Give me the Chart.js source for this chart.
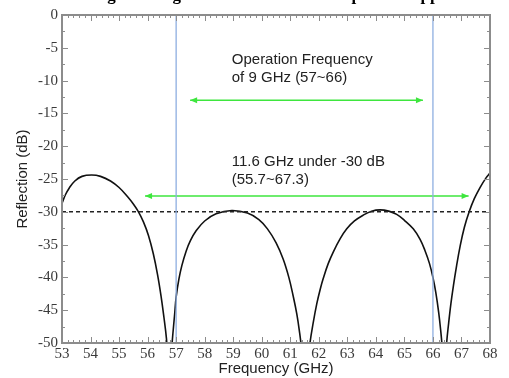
<!DOCTYPE html>
<html>
<head>
<meta charset="utf-8">
<script src="https://cdn.jsdelivr.net/npm/chart.js@4.4.1/dist/chart.umd.min.js"></script>
<style>
  html, body { margin: 0; padding: 0; background: #fff; }
  #wrap { width: 509px; height: 378px; }
</style>
</head>
<body>
<div id="wrap"><canvas id="chart" width="509" height="378"></canvas></div>
<script>
// 反射曲线 (GHz, dB)，从原图读取；零点处低于 -50 的部分被裁掉
const freq = [
  53.00, 53.12, 53.25, 53.45, 53.70, 54.04, 54.35, 54.70, 55.00, 55.30, 55.50, 55.68, 55.85, 56.03, 56.20, 56.35, 56.47, 56.57, 56.66, 56.77,
  56.85, 56.95, 57.00, 57.10, 57.20, 57.35, 57.50, 57.70, 58.00, 58.40, 58.95, 59.50, 59.90, 60.20, 60.50, 60.75, 60.95, 61.10, 61.23, 61.33, 61.40, 61.53,
  61.69, 61.80, 61.93, 62.05, 62.16, 62.33, 62.51, 62.75, 62.98, 63.25, 63.56, 63.85, 64.15, 64.45, 64.73, 65.00, 65.31, 65.55, 65.72, 65.88, 66.00, 66.10, 66.20, 66.27, 66.33, 66.39,
  66.48, 66.55, 66.63, 66.72, 66.83, 66.95, 67.10, 67.27, 67.45, 67.65, 67.85, 68.00];
const refl = [
  -28.7, -27.4, -26.4, -25.3, -24.6, -24.4, -24.6, -25.3, -26.3, -27.7, -28.8, -30.0, -31.5, -33.6, -36.4, -39.6, -42.8, -46.0, -49.3, -56.0,
  -50.5, -45.5, -43.0, -40.2, -38.2, -36.0, -34.4, -32.9, -31.4, -30.3, -29.8, -30.2, -31.2, -32.6, -34.7, -37.2, -40.0, -42.8, -45.6, -48.5, -51.0, -56.0,
  -50.0, -47.0, -44.0, -41.8, -40.1, -37.9, -36.1, -34.1, -32.6, -31.4, -30.5, -29.9, -29.7, -29.9, -30.4, -31.3, -32.6, -34.2, -35.9, -37.9, -40.0, -42.3, -45.3, -48.0, -51.0, -56.0,
  -50.0, -47.0, -44.0, -41.2, -38.2, -35.3, -32.4, -30.0, -28.0, -26.3, -24.9, -24.1];

// 工作频段边界 (GHz)
const bandEdges = [57, 66];
// -30 dB 参考线
const refLevel = -30;
// 箭头：[起点, 终点] GHz 和 dB 位置
const opArrowX = [57.49, 65.65];
const opArrowY = -13.0;
const bwArrowX = [55.91, 67.25];
const bwArrowY = -27.6;

// 坐标轴
const xMin = 53, xMax = 68, xStep = 1;
const yMin = -50, yMax = 0, yStep = 5;

// 注释文字
const opLabel = ['Operation Frequency', 'of 9 GHz (57~66)'];
const bwLabel = ['11.6 GHz under -30 dB', '(55.7~67.3)'];
const labelX = 58.95;
const opLabelY = [-6.9, -9.6];
const bwLabelY = [-22.4, -25.1];
const figTitle = 'Fig. 6. Designed reflection with two pair of supports';

const COLORS = {
  curve: '#111111',
  band: '#8eaee0',
  arrow: '#3ee63e',
  axis: '#8c8c8c',
  tick: '#3a3a3a',
  text: '#222222'
};

const curve = freq.map((f, i) => ({ x: f, y: refl[i] }));
const line = (pts, color, width, dash) => ({
  data: pts,
  showLine: true,
  borderColor: color,
  borderWidth: width,
  borderDash: dash || [],
  pointRadius: 0,
  tension: 0,
  clip: 0
});

const datasets = [
  ...bandEdges.map(b => line([{ x: b, y: yMin }, { x: b, y: yMax }], COLORS.band, 1.3)),
  line([{ x: xMin, y: refLevel }, { x: xMax, y: refLevel }], '#222', 1.4, [4, 3]),
  line(opArrowX.map(v => ({ x: v, y: opArrowY })), COLORS.arrow, 1.4),
  line(bwArrowX.map(v => ({ x: v, y: bwArrowY })), COLORS.arrow, 1.4),
  Object.assign(line(curve, COLORS.curve, 1.6), { tension: 0.4 })
];

// 箭头、边框、内向刻度、文字
const decorations = {
  id: 'decorations',
  afterDatasetsDraw(chart) {
    const { ctx, chartArea: a, scales: { x, y } } = chart;
    ctx.save();

    // 双向箭头
    ctx.fillStyle = COLORS.arrow;
    const head = (px, py, dir) => {
      ctx.beginPath();
      ctx.moveTo(px, py);
      ctx.lineTo(px - dir * 7, py - 3);
      ctx.lineTo(px - dir * 7, py + 3);
      ctx.closePath();
      ctx.fill();
    };
    [[opArrowX, opArrowY], [bwArrowX, bwArrowY]].forEach(([xs, yv]) => {
      const py = y.getPixelForValue(yv);
      head(x.getPixelForValue(xs[0]), py, -1);
      head(x.getPixelForValue(xs[1]), py, 1);
    });

    // 边框
    ctx.strokeStyle = COLORS.axis;
    ctx.lineWidth = 2;
    ctx.strokeRect(a.left, a.top, a.right - a.left, a.bottom - a.top);

    // x 方向刻度：每 0.2 GHz
    ctx.lineWidth = 1;
    const nx = Math.round((xMax - xMin) / 0.2);
    for (let i = 0; i <= nx; i++) {
      const px = Math.round(x.getPixelForValue(xMin + i * 0.2)) + 0.5;
      const len = i % 5 === 0 ? 6 : 3;
      ctx.beginPath();
      ctx.moveTo(px, a.bottom); ctx.lineTo(px, a.bottom - len);
      ctx.moveTo(px, a.top); ctx.lineTo(px, a.top + len);
      ctx.stroke();
    }
    // y 方向刻度：每 2.5 dB
    const ny = Math.round((yMax - yMin) / 2.5);
    for (let i = 0; i <= ny; i++) {
      const py = Math.round(y.getPixelForValue(yMin + i * 2.5)) + 0.5;
      const len = i % 2 === 0 ? 6 : 3;
      ctx.beginPath();
      ctx.moveTo(a.left, py); ctx.lineTo(a.left + len, py);
      ctx.moveTo(a.right, py); ctx.lineTo(a.right - len, py);
      ctx.stroke();
    }

    // 注释
    ctx.fillStyle = COLORS.text;
    ctx.font = '15px "Liberation Sans", Arial, sans-serif';
    ctx.textAlign = 'left';
    ctx.textBaseline = 'middle';
    const lx = x.getPixelForValue(labelX);
    opLabel.forEach((t, i) => ctx.fillText(t, lx, y.getPixelForValue(opLabelY[i])));
    bwLabel.forEach((t, i) => ctx.fillText(t, lx, y.getPixelForValue(bwLabelY[i])));

    // 被裁掉的图题
    ctx.fillStyle = '#000';
    ctx.font = 'bold 17px "Liberation Serif", "Times New Roman", serif';
    ctx.textAlign = 'center';
    ctx.textBaseline = 'alphabetic';
    ctx.fillText(figTitle, 280, 0);

    ctx.restore();
  }
};

const tickFont = { family: '"Liberation Serif", "Times New Roman", serif', size: 15 };
const titleFont = { family: '"Liberation Sans", Arial, sans-serif', size: 15 };

new Chart(document.getElementById('chart'), {
  type: 'scatter',
  data: { datasets },
  options: {
    responsive: false,
    animation: false,
    devicePixelRatio: 1,
    layout: { padding: { top: 15, right: 19, bottom: 0, left: 0 } },
    plugins: { legend: { display: false }, tooltip: { enabled: false } },
    scales: {
      x: {
        type: 'linear',
        min: xMin,
        max: xMax,
        afterFit: s => { s.height = 35; },
        grid: { display: false, drawTicks: false },
        border: { display: false },
        ticks: { stepSize: xStep, color: COLORS.tick, font: tickFont, padding: 2, maxRotation: 0 },
        title: { display: true, text: 'Frequency (GHz)', color: COLORS.text, font: titleFont, padding: { top: 0, bottom: 0 } }
      },
      y: {
        type: 'linear',
        min: yMin,
        max: yMax,
        afterFit: s => { s.width = 62; },
        grid: { display: false, drawTicks: false },
        border: { display: false },
        ticks: { stepSize: yStep, color: COLORS.tick, font: tickFont, padding: 4 },
        title: { display: true, text: 'Reflection (dB)', color: COLORS.text, font: titleFont, padding: { top: 14, bottom: 0 } }
      }
    }
  },
  plugins: [decorations]
});
</script>
</body>
</html>
